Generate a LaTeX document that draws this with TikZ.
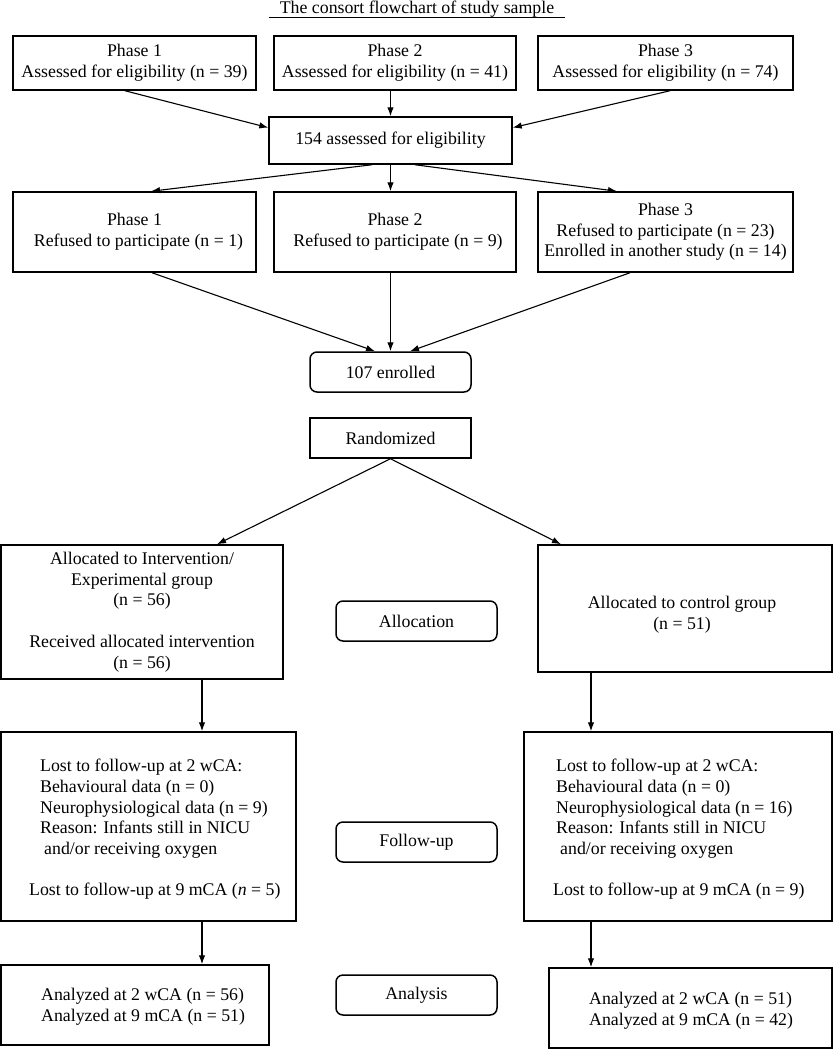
\documentclass[tikz,border=0pt]{standalone}
\usepackage{fontspec}
\setmainfont{Liberation Serif}
\usetikzlibrary{arrows.meta}

\begin{document}
\begin{tikzpicture}[x=1pt,y=-1pt,
    every node/.style={font=\fontsize{17.8}{20.7}\selectfont},
    box/.style={draw,line width=1.5pt,inner sep=0pt,align=center},
    rbox/.style={box,rounded corners=7pt,minimum width=161pt,minimum height=40pt},
    txt/.style={inner sep=0pt,align=left,anchor=north west},
    arr/.style={-{Latex[length=9pt,width=6.5pt]},line width=1.1pt}]
    \useasboundingbox (0,0) rectangle (833,1050);
    \node[inner xsep=11pt,inner ysep=0pt,anchor=south] (title) at (417,17.5) {The consort flowchart of study sample};
    \draw[line width=0.9pt] (title.south west) -- (title.south east);

    \node[box,minimum width=243pt,minimum height=54pt] (p1) at (134.5,63) {Phase 1\\Assessed for eligibility (n = 39)};
    \node[box,minimum width=242pt,minimum height=54pt] (p2) at (395,63) {Phase 2\\Assessed for eligibility (n = 41)};
    \node[box,minimum width=255pt,minimum height=54pt] (p3) at (665.5,63) {Phase 3\\Assessed for eligibility (n = 74)};
    \node[box,minimum width=243pt,minimum height=47pt] (all) at (390.5,140.5) {154 assessed for eligibility};

    \node[box,minimum width=243pt,minimum height=80pt] (r1) at (134.5,232) {Phase 1\\\hspace*{8pt}Refused to participate (n = 1)};
    \node[box,minimum width=242pt,minimum height=80pt] (r2) at (395,232) {Phase 2\\\hspace*{6pt}Refused to participate (n = 9)};
    \node[box,minimum width=255pt,minimum height=80pt] (r3) at (665.5,232) {Phase 3\\Refused to participate (n = 23)\\Enrolled in another study (n = 14)};

    \node[rbox] (enr) at (390.5,372) {107 enrolled};
    \node[box,minimum width=161pt,minimum height=40pt] (rand) at (390.5,438) {Randomized};

    \node[box,minimum width=282pt,minimum height=134pt] (intv) at (142,612) {Allocated to Intervention/\\Experimental group\\(n = 56)\\[20.7pt]Received allocated intervention\\(n = 56)};
    \node[rbox] (alloc) at (416.5,621) {Allocation};
    \node[box,minimum width=294pt,minimum height=127pt] (ctrl) at (685,608.5) {};
    \node[inner sep=0pt,align=center] (ctrlt) at (682,615) {Allocated to control group\\(n = 51)};

    \node[box,minimum width=295pt,minimum height=189pt] (lostI) at (148.5,826.5) {};
    \node[txt] (lostIt) at (40,759) {Lost to follow-up at 2 wCA:\\Behavioural data (n = 0)\\Neurophysiological data (n = 9)\\Reason: Infants still in NICU\\\hspace*{4pt}and/or receiving oxygen\\[20.7pt]\hspace*{-11pt}Lost to follow-up at 9 mCA (\textit{n} = 5)};
    \node[rbox] (fup) at (416.5,842) {Follow-up};
    \node[box,minimum width=308pt,minimum height=189pt] (lostC) at (678,826.5) {};
    \node[txt] (lostCt) at (556,759) {Lost to follow-up at 2 wCA:\\Behavioural data (n = 0)\\Neurophysiological data (n = 16)\\Reason: Infants still in NICU\\\hspace*{4pt}and/or receiving oxygen\\[20.7pt]\hspace*{-3pt}Lost to follow-up at 9 mCA (n = 9)};

    \node[box,minimum width=268pt,minimum height=80pt] (anI) at (135,1005) {};
    \node[txt] (anIt) at (41,988) {Analyzed at 2 wCA (n = 56)\\Analyzed at 9 mCA (n = 51)};
    \node[rbox] (ana) at (416.5,995) {Analysis};
    \node[box,minimum width=283pt,minimum height=80pt] (anC) at (690.5,1008) {};
    \node[txt] (anCt) at (589,992) {Analyzed at 2 wCA (n = 51)\\Analyzed at 9 mCA (n = 42)};

    \draw[arr] ([xshift=-9.5pt]p1.south) -- (all.174);
    \draw[arr] (all.north |- p2.south) -- (all.north);
    \draw[arr] ([xshift=4.5pt]p3.south) -- (all.6);
    \draw[arr] ([xshift=-18.5pt]all.south) -- ([xshift=16.5pt]r1.north);
    \draw[arr] (all.south) -- (all.south |- r2.north);
    \draw[arr] ([xshift=24.5pt]all.south) -- ([xshift=-48.5pt]r3.north);
    \draw[arr] ([xshift=17.5pt]r1.south) -- ([xshift=-15.5pt]enr.north);
    \draw[arr] (enr.north |- r2.south) -- (enr.north);
    \draw[arr] ([xshift=-35.5pt]r3.south) -- ([xshift=19.5pt]enr.north);
    \draw[arr] (rand.south) -- ([xshift=75pt]intv.north);
    \draw[arr] (rand.south) -- ([xshift=-124pt]ctrl.north);
    \draw[arr] ([xshift=60pt]intv.south) -- ([xshift=53.5pt]lostI.north);
    \draw[arr] ([xshift=-94pt]ctrl.south) -- ([xshift=-87pt]lostC.north);
    \draw[arr] ([xshift=53.5pt]lostI.south) -- ([xshift=67pt]anI.north);
    \draw[arr] ([xshift=-87pt]lostC.south) -- ([xshift=-99.5pt]anC.north);
\end{tikzpicture}
\end{document}
